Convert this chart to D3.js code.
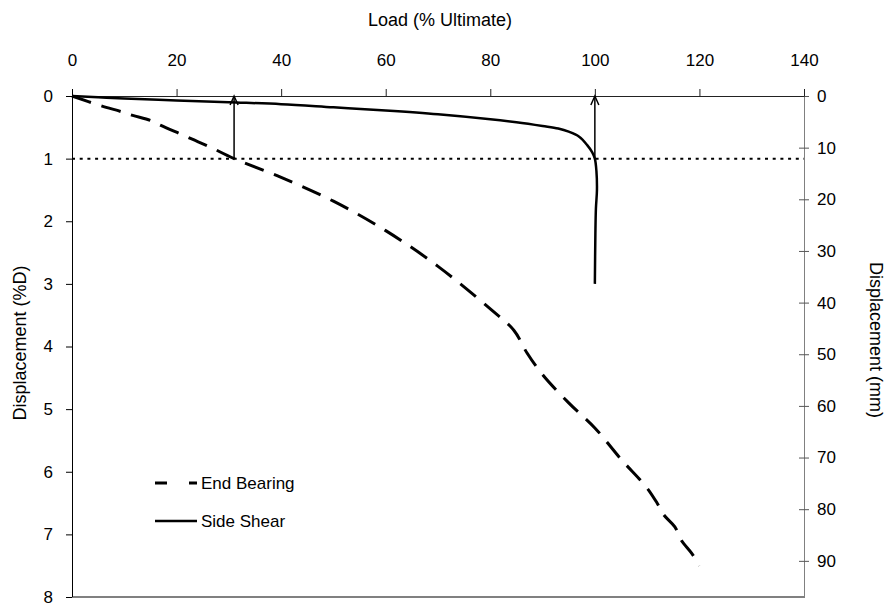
<!DOCTYPE html>
<html><head><meta charset="utf-8">
<script src="https://cdn.jsdelivr.net/npm/d3@7"></script>
<style>body{margin:0;background:#fff}svg{display:block}text{font-family:"Liberation Sans",Arial,sans-serif;fill:#000}</style>
</head><body>
<script>
const loadTicks = [0,20,40,60,80,100,120,140];
const dispTicks = [0,1,2,3,4,5,6,7,8];
const mmTicks = [0,10,20,30,40,50,60,70,80,90];
const sideShearLoad = [0,5,10,20,30,40,50,60,70,80,85,90,93,95,97,98.5,99.5,100,100.3,100.4,100.2,100.1,100];
const sideShearDisp = [0,0.02,0.04,0.07,0.1,0.13,0.18,0.23,0.29,0.37,0.42,0.48,0.52,0.57,0.65,0.78,0.9,1.0,1.2,1.5,1.8,2.2,3.0];
const endBearingLoad = [0,5.5,9.4,11.6,15,17,21.4,23,26.3,31,40,50,60,70,80,84.5,87,90,95,100,105,109.8,111.9,113.2,115.3,116.5,118.6,120];
const endBearingDisp = [0,0.155,0.25,0.31,0.39,0.47,0.63,0.69,0.81,1.0,1.3,1.68,2.15,2.72,3.4,3.74,4.1,4.45,4.9,5.3,5.8,6.24,6.5,6.69,6.88,7.09,7.31,7.5];
const arrowLoads = [31,100];
const refDisp = 1;
const legendNames = ["End Bearing","Side Shear"];

const W=893,H=606;
const svg=d3.select("body").append("svg").attr("width",W).attr("height",H);
const x=d3.scaleLinear([0,140],[72,804]);
const y=d3.scaleLinear([0,8],[96,597]);
const y2=d3.scaleLinear([0,97],[96,597]);
const fs=17, tfs=18;

// bottom gray frame line
svg.append("line").attr("x1",x(0)).attr("x2",x(140)).attr("y1",y(8)).attr("y2",y(8)).attr("stroke","#808080").attr("stroke-width",2);

// right axis
const gR=svg.append("g").attr("transform",`translate(${x(140)},0)`).call(d3.axisRight(y2).tickValues(mmTicks).tickSize(5).tickPadding(8).tickFormat(d3.format("d")));
gR.select(".domain").attr("stroke","#808080").attr("d",`M0.5,${y2(0)}V${y(8)+1}`);
gR.selectAll(".tick line").attr("x1",-5).attr("stroke","#555");
gR.selectAll("text").attr("font-size",fs).attr("font-family","Liberation Sans, Arial");

// top axis
const gT=svg.append("g").attr("transform",`translate(0,${y(0)})`).call(d3.axisTop(x).tickValues(loadTicks).tickSize(7).tickPadding(23).tickSizeOuter(0));
gT.select(".domain").attr("stroke","#222");
gT.selectAll(".tick line").attr("stroke","#222");
gT.selectAll("text").attr("font-size",fs).attr("font-family","Liberation Sans, Arial");

// left axis
const gL=svg.append("g").attr("transform",`translate(${x(0)},0)`).call(d3.axisLeft(y).tickValues(dispTicks).tickSize(6).tickPadding(13).tickSizeOuter(0));
gL.select(".domain").attr("stroke","#000").attr("d",`M0.5,${y(0)-7}V${y(8)}`);
gL.selectAll("text").attr("font-size",fs).attr("font-family","Liberation Sans, Arial");

// titles
svg.append("text").attr("x",440).attr("y",26).attr("text-anchor","middle").attr("font-size",tfs).text("Load (% Ultimate)");
svg.append("text").attr("transform",`translate(26,${343}) rotate(-90)`).attr("text-anchor","middle").attr("font-size",tfs).text("Displacement (%D)");
svg.append("text").attr("transform",`translate(870,${340}) rotate(90)`).attr("text-anchor","middle").attr("font-size",tfs).text("Displacement (mm)");

// dotted reference line
svg.append("line").attr("x1",x(0)).attr("x2",x(140)).attr("y1",y(refDisp)).attr("y2",y(refDisp)).attr("stroke","#000").attr("stroke-width",2).attr("stroke-dasharray","3,4.7");

const eb=endBearingLoad.map((v,i)=>[v,endBearingDisp[i]]);
const ss=sideShearLoad.map((v,i)=>[v,sideShearDisp[i]]);
svg.append("path").attr("d",d3.line().x(d=>x(d[0])).y(d=>y(d[1])).curve(d3.curveCatmullRom)(eb)).attr("fill","none").attr("stroke","#000").attr("stroke-width",3).attr("stroke-dasharray","20,11");
svg.append("path").attr("d",d3.line().x(d=>x(d[0])).y(d=>y(d[1])).curve(d3.curveCatmullRom)(ss)).attr("fill","none").attr("stroke","#000").attr("stroke-width",2.5);

// arrows
arrowLoads.forEach(a=>{
  const ax=x(a);
  svg.append("line").attr("x1",ax).attr("x2",ax).attr("y1",y(refDisp)).attr("y2",y(0)+1).attr("stroke","#000").attr("stroke-width",1.5);
  svg.append("path").attr("d",`M${ax-4},${y(0)+9}L${ax},${y(0)}L${ax+4},${y(0)+9}`).attr("fill","none").attr("stroke","#000").attr("stroke-width",1.5);
});

// legend
const lg=svg.append("g");
lg.append("line").attr("x1",155).attr("x2",197).attr("y1",483).attr("y2",483).attr("stroke","#000").attr("stroke-width",3).attr("stroke-dasharray","12,22,8");
lg.append("text").attr("x",201).attr("y",489).attr("font-size",fs).text(legendNames[0]);
lg.append("line").attr("x1",155).attr("x2",197).attr("y1",521).attr("y2",521).attr("stroke","#000").attr("stroke-width",2.5);
lg.append("text").attr("x",201).attr("y",527).attr("font-size",fs).text(legendNames[1]);
</script>
</body></html>
